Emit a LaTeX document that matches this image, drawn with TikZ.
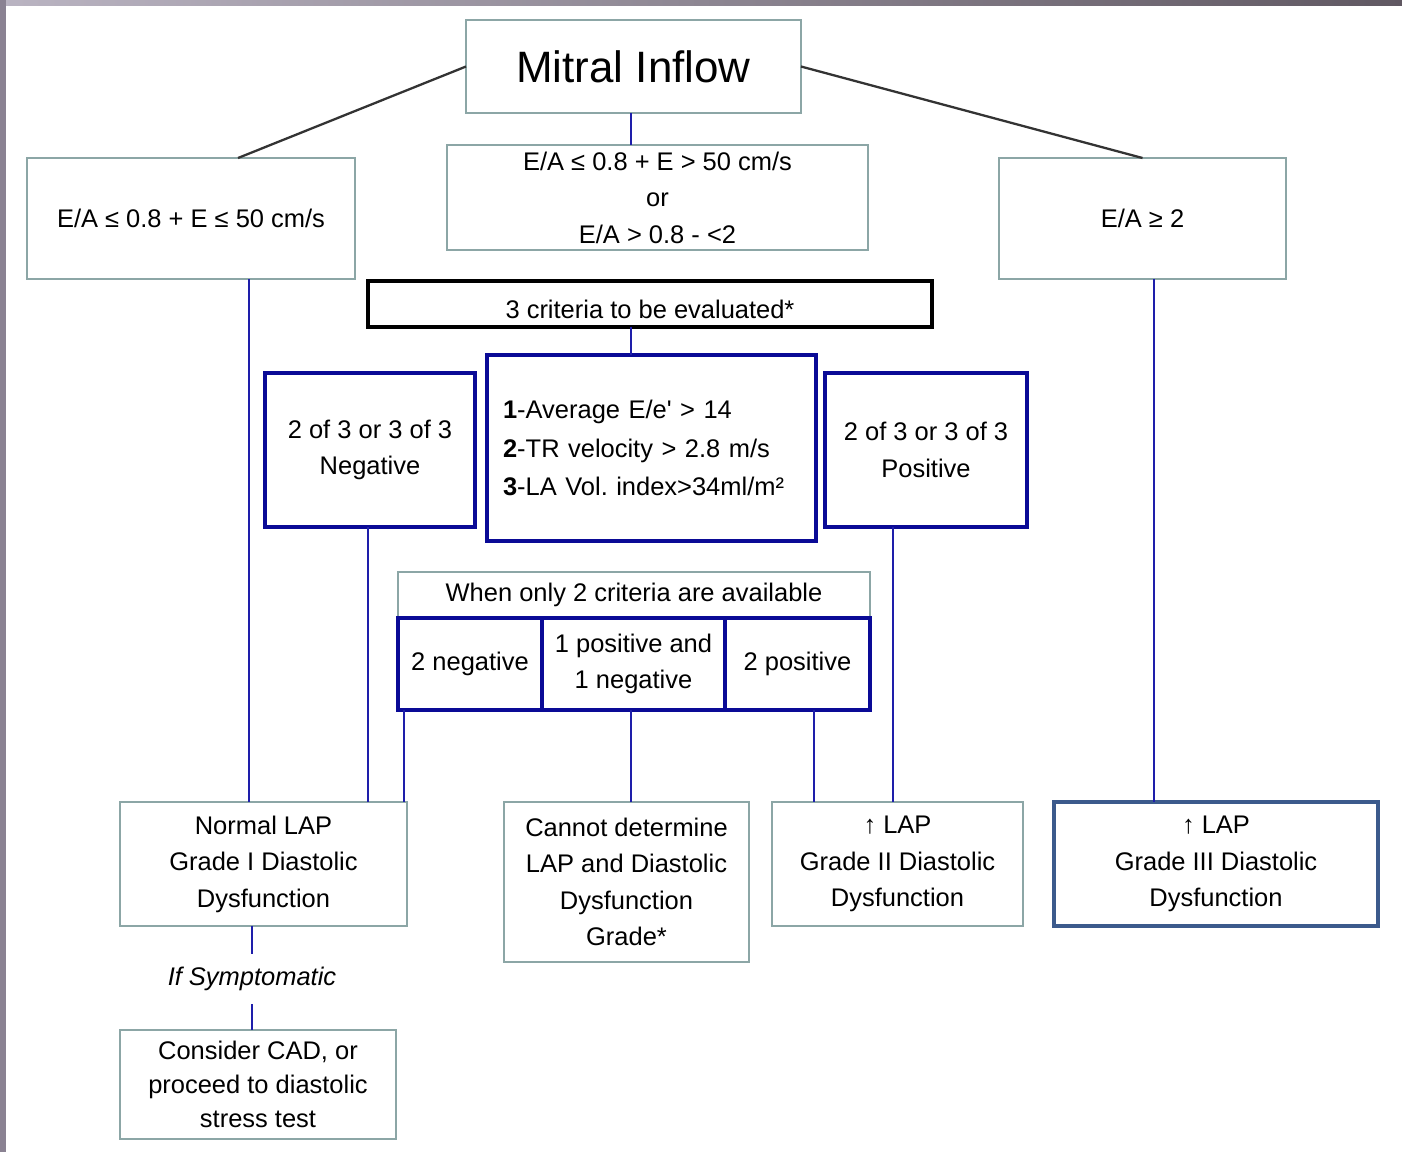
\documentclass[tikz,border=0pt]{standalone}
\usepackage{fontspec}
\setmainfont{Liberation Sans}
\usetikzlibrary{positioning,calc}
\definecolor{boxgray}{RGB}{140,166,166}
\definecolor{linkblue}{RGB}{30,30,170}
\definecolor{boxnavy}{RGB}{10,10,150}
\definecolor{boxsteel}{RGB}{60,90,140}
\definecolor{framelight}{RGB}{186,180,194}
\definecolor{framedark}{RGB}{96,88,98}
\definecolor{frameside}{RGB}{138,130,146}
\tikzset{
  basebox/.style={rectangle,inner sep=0pt,outer sep=0pt,align=center,
    font=\fontsize{14.5}{20.8}\selectfont},
  gbox/.style={basebox,draw=boxgray,line width=1.2pt},
  nbox/.style={basebox,draw=boxnavy,line width=2.6pt},
  link/.style={draw=linkblue,line width=1.1pt},
  branch/.style={draw=black!80,line width=1.3pt}
}
\begin{document}
\begin{tikzpicture}[x=0.02cm,y=-0.02cm]
\useasboundingbox (0,0) rectangle (1402,1152);
\fill[white] (0,0) rectangle (1402,1152);
% frame
\fill[left color=framelight,right color=framedark] (0,0) rectangle (1402,6);
\fill[frameside] (0,0) rectangle (6,1152);

% top level
\node[gbox,minimum width=6.7cm,minimum height=1.86cm,font=\fontsize{25}{30}\selectfont] (title) at (633.5,66.5) {Mitral Inflow};
\node[gbox,minimum width=6.56cm,minimum height=2.42cm] (ealow) at (191,218.5) {E/A ≤ 0.8 + E ≤ 50 cm/s};
\node[gbox,minimum width=8.42cm,minimum height=2.1cm] (eamid) at (657.5,197.5) {E/A ≤ 0.8 + E > 50 cm/s\\or\\E/A > 0.8 - <2};
\node[gbox,minimum width=5.74cm,minimum height=2.42cm] (eahigh) at (1142.5,218.5) {E/A ≥ 2};

% criteria
\node[basebox,draw=black,line width=2.4pt,minimum width=11.28cm,minimum height=0.92cm] (eval) at (650,304) {\raisebox{-0.3cm}[0pt][0pt]{3 criteria to be evaluated*}};
\node[nbox,minimum width=6.58cm,minimum height=3.72cm,align=left,text width=5.94cm,
  font=\fontsize{14.5}{21.8}\selectfont\frenchspacing] (crit) at (651.5,448)
  {\textbf{1}-Average E/e\textquotesingle{} > 14\\\textbf{2}-TR velocity > 2.8 m/s\\\textbf{3}-LA Vol.\ index>34ml/m²};
\node[nbox,minimum width=4.2cm,minimum height=3.08cm] (neg) at (370,450) {2 of 3 or 3 of 3\\Negative};
\node[nbox,minimum width=4.04cm,minimum height=3.08cm] (pos) at (926,450) {2 of 3 or 3 of 3\\Positive};

% only two criteria
\node[gbox,minimum width=9.44cm,minimum height=0.92cm] (only) at (634,595) {When only 2 criteria are available};
\node[nbox,minimum width=2.88cm,minimum height=1.84cm] (twoneg) at (470,664) {2 negative};
\node[nbox,minimum width=3.66cm,minimum height=1.84cm] (mixed) at (633.5,664) {1 positive and\\1 negative};
\node[nbox,minimum width=2.9cm,minimum height=1.84cm] (twopos) at (797.5,664) {2 positive};

% outcomes
\node[gbox,minimum width=5.74cm,minimum height=2.48cm] (normal) at (263.5,864) {Normal LAP\\Grade I Diastolic\\Dysfunction};
\node[gbox,minimum width=4.9cm,minimum height=3.2cm] (cannot) at (626.5,882) {Cannot determine\\LAP and Diastolic\\Dysfunction\\Grade*};
\node[gbox,minimum width=5.02cm,minimum height=2.48cm] (gradetwo) at (897.5,864) {↑ LAP\\Grade II Diastolic\\Dysfunction};
\node[basebox,draw=boxsteel,line width=2.4pt,minimum width=6.48cm,minimum height=2.48cm] (gradethree) at (1216,864) {↑ LAP\\Grade III Diastolic\\Dysfunction};
\node[basebox,minimum height=1.0cm,font=\fontsize{14.5}{20.5}\selectfont\itshape] (symp) at (252,979) {If Symptomatic};
\node[gbox,minimum width=5.52cm,minimum height=2.18cm,font=\fontsize{14.5}{19.5}\selectfont] (cad) at (258,1084.5) {Consider CAD, or\\proceed to diastolic\\stress test};

% connectors
\draw[branch] (title.west) -- ([xshift=0.94cm]ealow.north);
\draw[branch] (title.east) -- (eahigh.north);
\draw[link] ([xshift=-0.05cm]title.south) coordinate (t0) -- (t0 |- eamid.north);
\draw[link] (t0 |- eval.south) -- (t0 |- crit.north);
\draw[link] ([xshift=1.16cm]ealow.south) coordinate (a1) -- (a1 |- normal.north);
\draw[link] ([xshift=-0.04cm]neg.south) coordinate (a2) -- (a2 |- normal.north);
\draw[link] ([xshift=-1.32cm]twoneg.south) coordinate (a3) -- (a3 |- normal.north);
\draw[link] ([xshift=-0.05cm]mixed.south) coordinate (a4) -- (a4 |- cannot.north);
\draw[link] ([xshift=0.33cm]twopos.south) coordinate (a5) -- (a5 |- gradetwo.north);
\draw[link] ([xshift=-0.66cm]pos.south) coordinate (a6) -- (a6 |- gradetwo.north);
\draw[link] ([xshift=0.23cm]eahigh.south) coordinate (a7) -- (a7 |- gradethree.north);
\draw[link] (normal.south -| symp) -- (symp.north);
\draw[link] (symp.south) -- (symp.south |- cad.north);
\end{tikzpicture}
\end{document}
